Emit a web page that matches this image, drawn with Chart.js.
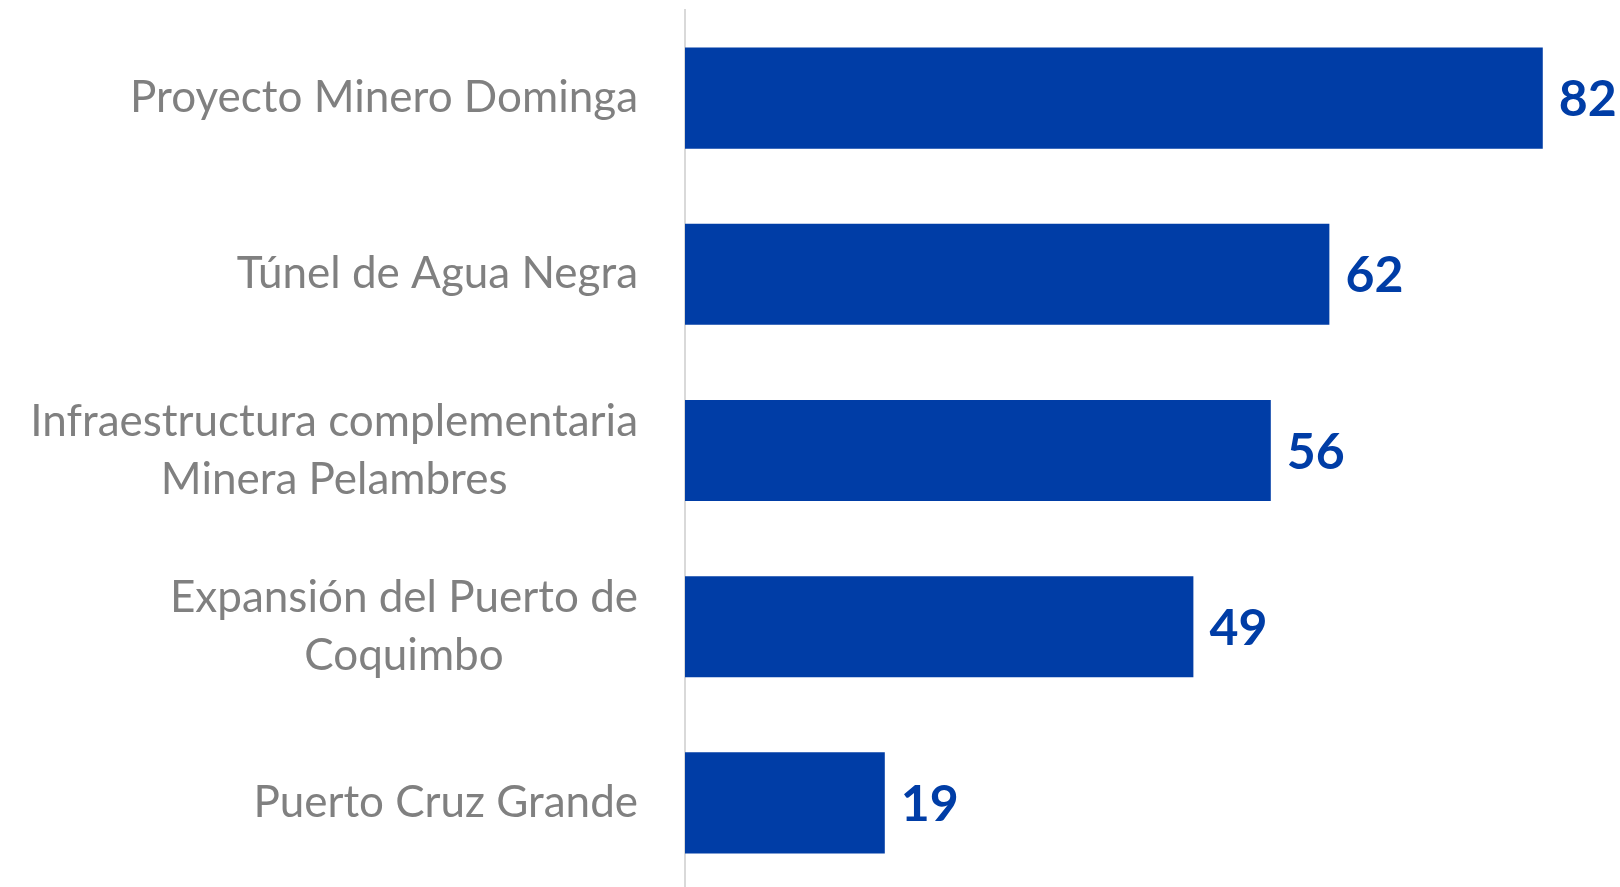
<!DOCTYPE html>
<html>
<head>
<meta charset="utf-8">
<script src="https://cdn.jsdelivr.net/npm/chart.js@4.4.0/dist/chart.umd.min.js"></script>
<style>
  html, body { margin: 0; padding: 0; background: #fff; overflow: hidden; }
</style>
</head>
<body>
<canvas id="chart" width="1620" height="900"></canvas>
<script>
var categories = [
    ['Proyecto Minero Dominga'],
    ['Túnel de Agua Negra'],
    ['Infraestructura complementaria', 'Minera Pelambres'],
    ['Expansión del Puerto de', 'Coquimbo'],
    ['Puerto Cruz Grande']
];
var values = [82, 61.6, 56, 48.6, 19.1];

var barColor = '#003DA6';
var labelFont = '44px Lato';
var valueFont = 'bold 50px Lato';

// category labels drawn per line, lines centred on each other, block right aligned
var categoryLabels = {
    id: 'categoryLabels',
    afterDraw: function(chart) {
        var ctx = chart.ctx;
        var yScale = chart.scales.y;
        var right = chart.chartArea.left - 47;
        var lineHeight = 58;
        ctx.save();
        ctx.font = labelFont;
        ctx.fillStyle = '#808080';
        ctx.textBaseline = 'middle';
        ctx.textAlign = 'center';
        categories.forEach(function(lines, i) {
            var y = yScale.getPixelForTick(i);
            var widest = 0;
            lines.forEach(function(l) {
                widest = Math.max(widest, ctx.measureText(l).width);
            });
            var cx = right - widest / 2;
            var y0 = y - (lines.length - 1) * lineHeight / 2;
            lines.forEach(function(l, j) {
                ctx.fillText(l, cx, y0 + j * lineHeight);
            });
        });
        ctx.restore();
    }
};

var valueLabels = {
    id: 'valueLabels',
    afterDatasetsDraw: function(chart) {
        var ctx = chart.ctx;
        var meta = chart.getDatasetMeta(0);
        ctx.save();
        ctx.font = valueFont;
        ctx.fillStyle = barColor;
        ctx.textBaseline = 'middle';
        ctx.textAlign = 'left';
        meta.data.forEach(function(bar, i) {
            ctx.fillText(String(Math.round(values[i])), bar.x + 16, bar.y + 2);
        });
        ctx.restore();
    }
};

var ctx = document.getElementById('chart').getContext('2d');
new Chart(ctx, {
    type: 'bar',
    data: {
        labels: categories,
        datasets: [{
            data: values,
            backgroundColor: barColor,
            borderWidth: 0,
            categoryPercentage: 0.574,
            barPercentage: 1
        }]
    },
    options: {
        indexAxis: 'y',
        responsive: false,
        animation: false,
        layout: { padding: { top: 10, bottom: 9, right: 4, left: 0 } },
        plugins: {
            legend: { display: false },
            tooltip: { enabled: false }
        },
        scales: {
            x: {
                display: false,
                min: 0,
                max: 89
            },
            y: {
                grid: { display: false },
                border: { display: true, color: '#d9d9d9', width: 2 },
                ticks: { display: false },
                afterFit: function(scale) {
                    scale.width = 685;
                }
            }
        }
    },
    plugins: [categoryLabels, valueLabels]
});
</script>
</body>
</html>
